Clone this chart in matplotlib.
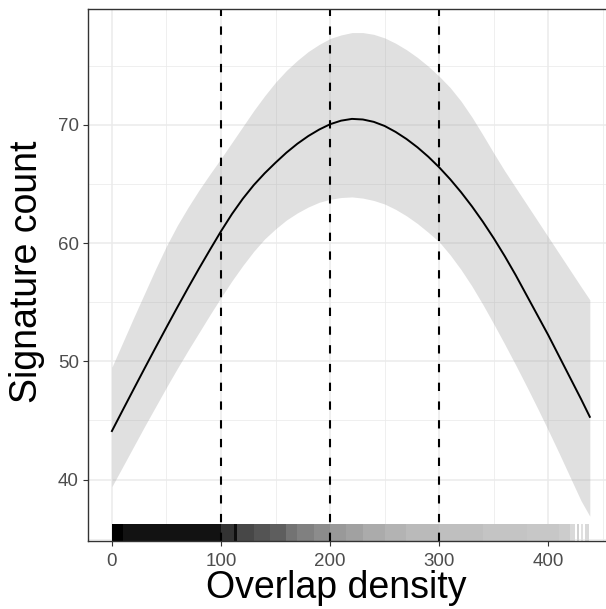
import matplotlib
matplotlib.use('Agg')
import matplotlib.pyplot as plt

# fitted curve and confidence band, every 10 units
fit_x  = [0, 10, 20, 30, 40, 50, 60, 70, 80, 90,
          100, 110, 120, 130, 140, 150, 160, 170, 180, 190,
          200, 210, 220, 230, 240, 250, 260, 270, 280, 290,
          300, 310, 320, 330, 340, 350, 360, 370, 380, 390,
          400, 410, 420, 430, 438]
fit_y  = [44.1, 45.88, 47.65, 49.41, 51.15, 52.87, 54.57, 56.24, 57.87, 59.45,
          61.0, 62.45, 63.75, 64.9, 65.9, 66.8, 67.65, 68.4, 69.05, 69.6,
          70.05, 70.35, 70.5, 70.45, 70.25, 69.9, 69.4, 68.8, 68.1, 67.3,
          66.4, 65.4, 64.3, 63.1, 61.8, 60.4, 58.9, 57.3, 55.6, 53.9,
          52.2, 50.4, 48.6, 46.8, 45.3]
fit_hi = [49.5, 51.6, 53.7, 55.75, 57.8, 59.75, 61.5, 63.05, 64.5, 65.85,
          67.15, 68.5, 69.85, 71.2, 72.45, 73.6, 74.6, 75.45, 76.2, 76.8,
          77.3, 77.6, 77.8, 77.8, 77.65, 77.35, 76.9, 76.35, 75.7, 74.95,
          74.1, 73.15, 72.0, 70.65, 69.15, 67.6, 66.1, 64.7, 63.3, 61.9,
          60.5, 59.1, 57.7, 56.3, 55.2]
fit_lo = [39.4, 41.1, 42.8, 44.5, 46.15, 47.8, 49.4, 50.95, 52.45, 53.95,
          55.4, 56.8, 58.1, 59.3, 60.35, 61.2, 61.95, 62.55, 63.05, 63.45,
          63.7, 63.85, 63.9, 63.8, 63.6, 63.3, 62.85, 62.3, 61.65, 60.9,
          60.1, 59.0, 57.75, 56.35, 54.8, 53.15, 51.45, 49.7, 47.9, 46.05,
          44.15, 42.2, 40.2, 38.2, 36.9]

# cut points at 100 / 200 / 300
cut_x = [100, 200, 300]

# rug: bins of overlap density with their apparent grey level (0 = black, 1 = white)
rug_left  = [0, 10, 100, 112, 115, 130, 145, 160, 170, 185, 200, 215, 230, 250, 270, 300, 340, 380, 410, 420, 426, 430, 434]
rug_right = [10, 100, 112, 115, 130, 145, 160, 170, 185, 200, 215, 230, 250, 270, 300, 340, 380, 410, 420, 424, 428, 432, 437]
rug_grey  = [0.0, 0.07, 0.2, 0.05, 0.28, 0.33, 0.37, 0.45, 0.5, 0.55, 0.6, 0.63, 0.67, 0.7, 0.73, 0.75, 0.77, 0.78, 0.8, 0.85, 0.82, 0.88, 0.85]

x_ticks = [0, 100, 200, 300, 400]
y_ticks = [40, 50, 60, 70]

plt.rcParams['font.family'] = ['Liberation Sans', 'DejaVu Sans']

fig = plt.figure(figsize=(6.06, 6.09), dpi=100)
ax = fig.add_axes([88 / 606, 68 / 609, (613.7 - 88) / 606, (541 - 8.7) / 609])

ax.set_xlim(-21.9, 459.9)
ax.set_ylim(34.8, 79.82)

# grid like theme_bw
ax.set_xticks(x_ticks)
ax.set_yticks(y_ticks)
ax.set_xticks([50, 150, 250, 350, 450], minor=True)
ax.set_yticks([35, 45, 55, 65, 75], minor=True)
ax.grid(True, which='major', color='#EBEBEB', linewidth=1.1)
ax.grid(True, which='minor', color='#EBEBEB', linewidth=0.55)
ax.set_axisbelow(True)
ax.tick_params(which='minor', length=0)
ax.tick_params(which='major', length=3.5, width=0.8, color='#333333',
               labelsize=13.5, labelcolor='#4D4D4D', pad=3)
ax.tick_params(axis='x', pad=5)
for s in ax.spines.values():
    s.set_color('#333333')
    s.set_linewidth(1.0)

# confidence band + fit
ax.fill_between(fit_x, fit_lo, fit_hi, color='#999999', alpha=0.3, linewidth=0)
ax.plot(fit_x, fit_y, color='black', linewidth=1.4)

# rug along the bottom
for l, r, g in zip(rug_left, rug_right, rug_grey):
    ax.axvspan(l, r, ymin=0, ymax=0.031, color=str(g), linewidth=0)

for cx in cut_x:
    ax.axvline(cx, color='black', linewidth=1.5, linestyle=(0, (4, 5)))

ax.set_xlabel('Overlap density', fontsize=27)
ax.set_ylabel('Signature count', fontsize=27)
ax.xaxis.set_label_coords(0.4727, -0.055)
ax.yaxis.set_label_coords(-0.082, 0.505)

fig.savefig('out.png', dpi=100)
